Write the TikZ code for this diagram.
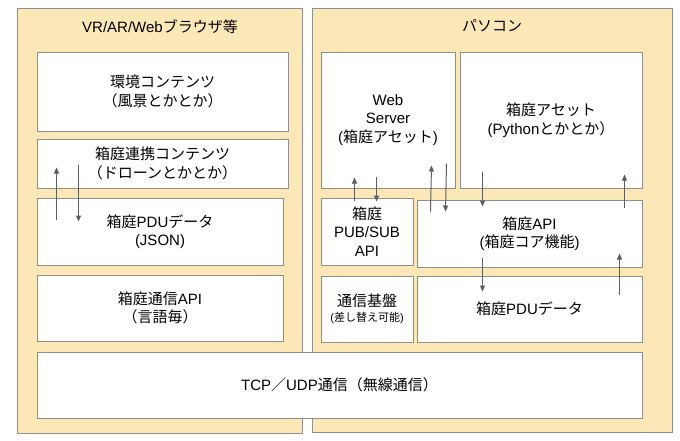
\documentclass[tikz,border=0pt]{standalone}
\usepackage{fontspec}
\setmainfont{Liberation Sans}
\newfontfamily\jpfont{Noto Sans CJK JP}
\newcommand{\ja}[1]{{\jpfont #1}}
\usepackage{tikz}
\usetikzlibrary{arrows.meta}

\definecolor{beige}{HTML}{FCE8B6}
\definecolor{edgegray}{HTML}{8E8E8E}
\definecolor{arrgray}{HTML}{5E5E5E}

\tikzset{
	outerbox/.style={draw=edgegray, fill=beige, line width=1pt, inner sep=0pt},
	innerbox/.style={draw=edgegray, fill=white, line width=1pt, inner sep=0pt, align=center,
		font=\fontsize{15}{18.5}\selectfont},
	title/.style={font=\fontsize{15}{18}\selectfont, inner sep=0pt},
	arr/.style={-{Triangle[length=6pt,width=5pt]}, arrgray, line width=1pt}
}

\begin{document}
\begin{tikzpicture}[x=1pt, y=-1pt]

	\useasboundingbox[fill=white] (0,0) rectangle (680,440);

	% outer frames
	\node[outerbox, minimum width=285pt, minimum height=425pt] (browser) at (159.5, 220.5) {};
	\node[outerbox, minimum width=360pt, minimum height=424pt] (pc) at (492, 220) {};
	\node[title] (browsertitle) at (160, 27) {VR/AR/Web\ja{ブラウザ等}};
	\node[title] (pctitle) at (492, 26) {\ja{パソコン}};

	% browser side
	\node[innerbox, minimum width=251pt, minimum height=79pt] (env) at (162.5, 91.5)
		{\ja{環境コンテンツ}\\\ja{（風景とかとか）}};
	\node[innerbox, minimum width=251pt, minimum height=49pt] (link) at (162.5, 163.5)
		{\ja{箱庭連携コンテンツ}\\\ja{（ドローンとかとか）}};
	\node[innerbox, minimum width=246pt, minimum height=67pt] (pduL) at (160, 231.5)
		{\ja{箱庭}PDU\ja{データ}\\(JSON)};
	\node[innerbox, minimum width=246pt, minimum height=66pt] (commL) at (160, 308)
		{\ja{箱庭通信}API\\\ja{（言語毎）}};

	% pc side
	\node[innerbox, minimum width=134pt, minimum height=136pt] (web) at (388, 120)
		{Web\\Server\\(\ja{箱庭アセット})};
	\node[innerbox, minimum width=182pt, minimum height=136pt] (asset) at (551, 120)
		{\ja{箱庭アセット}\\(Python\ja{とかとか）}};
	\node[innerbox, minimum width=92pt, minimum height=67pt] (pubsub) at (367, 231.5)
		{\ja{箱庭}\\PUB/SUB\\API};
	\node[innerbox, minimum width=225pt, minimum height=67pt] (api) at (529.5, 233.5)
		{\ja{箱庭}API\\(\ja{箱庭コア機能})};
	\node[innerbox, minimum width=92pt, minimum height=66pt] (base) at (367, 309)
		{\ja{通信基盤}\\[-3pt]{\fontsize{11}{13}\selectfont(\ja{差し替え可能})}};
	\node[innerbox, minimum width=225pt, minimum height=66pt] (pduR) at (529.5, 309)
		{\ja{箱庭}PDU\ja{データ}};

	% network
	\node[innerbox, minimum width=605pt, minimum height=66pt] (tcp) at (339.5, 385)
		{TCP\ja{／}UDP\ja{通信（無線通信）}};

	% data flow
	\draw[arr] ([xshift=20pt, yshift=-22pt]pduL.north west) -- ([xshift=20pt, yshift=21pt]link.south west);
	\draw[arr] ([xshift=42pt, yshift=24pt]link.south west) -- ([xshift=42pt, yshift=-24pt]pduL.north west);

	\draw[arr] ([xshift=34pt, yshift=-3pt]pubsub.north west) -- ([xshift=34pt, yshift=11pt]web.south west);
	\draw[arr] ([xshift=56pt, yshift=12pt]web.south west) -- ([xshift=56pt, yshift=-4pt]pubsub.north west);
	\draw[arr] ([xshift=14pt, yshift=-12pt]api.north west) -- ([xshift=-24pt, yshift=23pt]web.south east);
	\draw[arr] ([xshift=-9pt, yshift=25pt]web.south east) -- ([xshift=29pt, yshift=-12pt]api.north west);
	\draw[arr] ([xshift=23pt, yshift=17pt]asset.south west) -- ([xshift=66pt, yshift=-7pt]api.north west);
	\draw[arr] ([xshift=-18pt, yshift=-8pt]api.north east) -- ([xshift=-18pt, yshift=14pt]asset.south east);
	\draw[arr] ([xshift=66pt, yshift=10pt]api.south west) -- ([xshift=66pt, yshift=-16pt]pduR.north west);
	\draw[arr] ([xshift=-23pt, yshift=-19pt]pduR.north east) -- ([xshift=-23pt, yshift=14pt]api.south east);

\end{tikzpicture}
\end{document}
